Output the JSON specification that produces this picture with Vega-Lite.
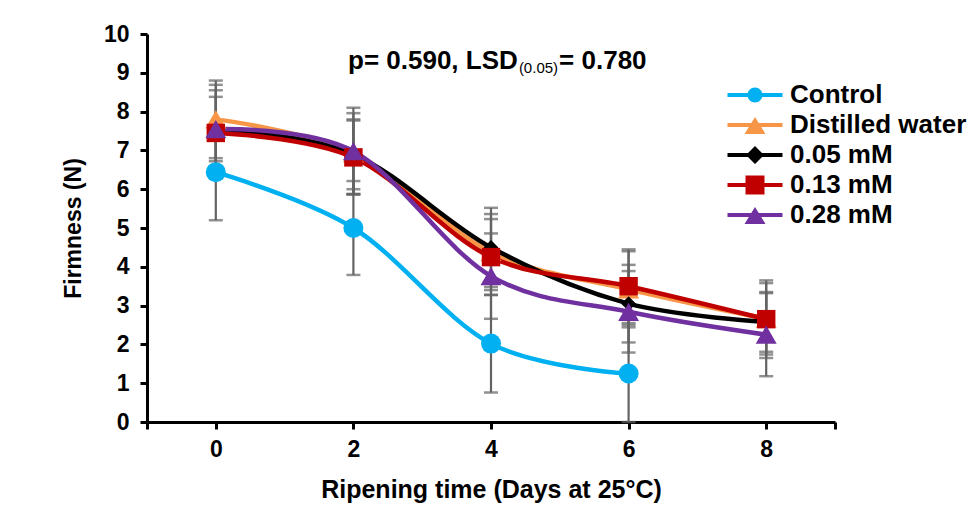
{
  "$schema": "https://vega.github.io/schema/vega-lite/v6.json",
  "width": 688,
  "height": 388,
  "autosize": {"type": "none"},
  "padding": {"left": 147, "top": 34, "right": 141, "bottom": 109},
  "background": "white",
  "config": {
    "view": {"stroke": null},
    "font": "Liberation Sans",
    "axis": {
      "domainColor": "black", "domainWidth": 3, "tickColor": "black", "tickWidth": 3, "tickSize": 7,
      "grid": false, "labelFont": "Liberation Sans", "labelFontWeight": "bold", "labelFontSize": 23,
      "labelColor": "black", "titleFont": "Liberation Sans", "titleFontWeight": "bold", "titleColor": "black"
    }
  },
  "datasets": {
    "main": [
      {"series": "Control", "day": 0, "firmness": 6.44, "err": 1.24},
      {"series": "Control", "day": 2, "firmness": 5.0, "err": 1.21},
      {"series": "Control", "day": 4, "firmness": 2.02, "err": 1.26},
      {"series": "Control", "day": 6, "firmness": 1.25, "err": 1.25},
      {"series": "Distilled water", "day": 0, "firmness": 7.8, "err": 1.0},
      {"series": "Distilled water", "day": 2, "firmness": 6.92, "err": 1.04},
      {"series": "Distilled water", "day": 4, "firmness": 4.38, "err": 0.98},
      {"series": "Distilled water", "day": 6, "firmness": 3.42, "err": 0.98},
      {"series": "Distilled water", "day": 8, "firmness": 2.66, "err": 0.92},
      {"series": "0.05 mM", "day": 0, "firmness": 7.55, "err": 1.14},
      {"series": "0.05 mM", "day": 2, "firmness": 6.9, "err": 0.9},
      {"series": "0.05 mM", "day": 4, "firmness": 4.5, "err": 1.02},
      {"series": "0.05 mM", "day": 6, "firmness": 3.05, "err": 1.0},
      {"series": "0.05 mM", "day": 8, "firmness": 2.58, "err": 0.77},
      {"series": "0.13 mM", "day": 0, "firmness": 7.45, "err": 1.1},
      {"series": "0.13 mM", "day": 2, "firmness": 6.82, "err": 0.95},
      {"series": "0.13 mM", "day": 4, "firmness": 4.25, "err": 0.98},
      {"series": "0.13 mM", "day": 6, "firmness": 3.5, "err": 0.95},
      {"series": "0.13 mM", "day": 8, "firmness": 2.65, "err": 1.0},
      {"series": "0.28 mM", "day": 0, "firmness": 7.55, "err": 0.83},
      {"series": "0.28 mM", "day": 2, "firmness": 6.98, "err": 1.12},
      {"series": "0.28 mM", "day": 4, "firmness": 3.76, "err": 1.1},
      {"series": "0.28 mM", "day": 6, "firmness": 2.84, "err": 1.05},
      {"series": "0.28 mM", "day": 8, "firmness": 2.25, "err": 1.07}
    ],
    "note": [
      {"part": "main", "label": "p= 0.590, LSD"},
      {"part": "sub", "label": "(0.05)"},
      {"part": "tail", "label": "= 0.780"}
    ]
  },
  "layer": [
    {
      "data": {"name": "main"},
      "encoding": {
        "x": {
          "field": "day", "type": "quantitative",
          "scale": {"domain": [-1, 9], "nice": false, "zero": false},
          "axis": {
            "values": [-1, 0, 2, 4, 6, 8, 9], "format": "d",
            "labelExpr": "datum.value < 0 || datum.value > 8 ? '' : datum.label",
            "title": "Ripening time (Days at 25°C)", "titleFontSize": 25, "titlePadding": 16, "labelPadding": 9
          }
        },
        "y": {
          "field": "firmness", "type": "quantitative",
          "scale": {"domain": [0, 10], "nice": false},
          "axis": {
            "values": [0, 1, 2, 3, 4, 5, 6, 7, 8, 9, 10], "format": "d",
            "title": "Firmness (N)", "titleFontSize": 23, "titlePadding": 18, "labelPadding": 11
          }
        }
      },
      "layer": [
        {
          "mark": {"type": "errorbar", "color": "#636363", "thickness": 2.2, "ticks": {"size": 14, "thickness": 2.5, "color": "#636363"}},
          "encoding": {"yError": {"field": "err"}, "detail": {"field": "series"}}
        },
        {
          "mark": {"type": "line", "interpolate": "cardinal", "strokeWidth": 4.5},
          "encoding": {
            "color": {"field": "series", "type": "nominal",
              "scale": {"domain": ["Control", "Distilled water", "0.05 mM", "0.13 mM", "0.28 mM"], "range": ["#00B0F0", "#F79646", "#000000", "#C00000", "#7030A0"]}}
          }
        },
        {
          "transform": [{"filter": "datum.series == 'Control'"}],
          "mark": {"type": "point", "filled": true, "shape": "circle", "size": 400, "opacity": 1},
          "encoding": {"color": {"field": "series", "type": "nominal"}}
        },
        {
          "transform": [{"filter": "datum.series == 'Distilled water'"}],
          "mark": {"type": "point", "filled": true, "shape": "triangle-up", "size": 440, "opacity": 1},
          "encoding": {"color": {"field": "series", "type": "nominal"}}
        },
        {
          "transform": [{"filter": "datum.series == '0.05 mM'"}],
          "mark": {"type": "point", "filled": true, "shape": "diamond", "size": 220, "opacity": 1},
          "encoding": {"color": {"field": "series", "type": "nominal"}}
        },
        {
          "transform": [{"filter": "datum.series == '0.13 mM'"}],
          "mark": {"type": "point", "filled": true, "shape": "square", "size": 340, "opacity": 1},
          "encoding": {"color": {"field": "series", "type": "nominal"}}
        },
        {
          "transform": [{"filter": "datum.series == '0.28 mM'"}],
          "mark": {"type": "point", "filled": true, "shape": "triangle-up", "size": 440, "opacity": 1},
          "encoding": {"color": {"field": "series", "type": "nominal"}}
        },
        {
          "mark": {"type": "point", "filled": true, "size": 0, "opacity": 1},
          "encoding": {
            "color": {"field": "series", "type": "nominal",
              "legend": {"title": null, "orient": "none", "legendX": 595, "legendY": 48, "padding": 0,
                "symbolSize": 400, "symbolStrokeWidth": 0, "labelOffset": 22, "rowPadding": 4,
                "labelFont": "Liberation Sans", "labelFontWeight": "bold", "labelFontSize": 26, "labelColor": "black", "labelLimit": 300}},
            "shape": {"field": "series", "type": "nominal",
              "scale": {"domain": ["Control", "Distilled water", "0.05 mM", "0.13 mM", "0.28 mM"],
                "range": [
                  "M-2.75,-0.2H2.75V0.2H-2.75Z M-0.75,0A0.75,0.75 0 1,1 0.75,0A0.75,0.75 0 1,1 -0.75,0Z",
                  "M-2.75,-0.2H2.75V0.2H-2.75Z M0,-0.8L1.05,0.9L-1.05,0.9Z",
                  "M-2.75,-0.2H2.75V0.2H-2.75Z M0,-0.9L0.9,0L0,0.9L-0.9,0Z",
                  "M-2.75,-0.2H2.75V0.2H-2.75Z M-0.95,-0.95H0.95V0.95H-0.95Z",
                  "M-2.75,-0.2H2.75V0.2H-2.75Z M0,-0.8L1.05,0.9L-1.05,0.9Z"
                ]},
              "legend": {"title": null, "orient": "none", "legendX": 595, "legendY": 48, "padding": 0,
                "symbolSize": 400, "symbolStrokeWidth": 0, "labelOffset": 22, "rowPadding": 4,
                "labelFont": "Liberation Sans", "labelFontWeight": "bold", "labelFontSize": 26, "labelColor": "black", "labelLimit": 300}}
          }
        }
      ]
    },
    {
      "data": {"name": "note"},
      "transform": [{"filter": "datum.part == 'main'"}],
      "mark": {"type": "text", "align": "right", "baseline": "alphabetic", "font": "Liberation Sans", "fontWeight": "bold", "fontSize": 26, "color": "black"},
      "encoding": {
        "text": {"field": "label"},
        "x": {"datum": 4.39, "type": "quantitative", "axis": {"values": [-1, 0, 2, 4, 6, 8, 9], "format": "d", "labelExpr": "datum.value < 0 || datum.value > 8 ? '' : datum.label", "title": "Ripening time (Days at 25°C)", "titleFontSize": 25, "titlePadding": 16, "labelPadding": 9}},
        "y": {"datum": 9.1, "type": "quantitative", "axis": {"values": [0, 1, 2, 3, 4, 5, 6, 7, 8, 9, 10], "format": "d", "title": "Firmness (N)", "titleFontSize": 23, "titlePadding": 18, "labelPadding": 11}}
      }
    },
    {
      "data": {"name": "note"},
      "transform": [{"filter": "datum.part == 'sub'"}],
      "mark": {"type": "text", "align": "center", "baseline": "alphabetic", "font": "Liberation Sans", "fontSize": 15, "color": "black"},
      "encoding": {
        "text": {"field": "label"},
        "x": {"datum": 4.69, "type": "quantitative", "axis": {"values": [-1, 0, 2, 4, 6, 8, 9], "format": "d", "labelExpr": "datum.value < 0 || datum.value > 8 ? '' : datum.label", "title": "Ripening time (Days at 25°C)", "titleFontSize": 25, "titlePadding": 16, "labelPadding": 9}},
        "y": {"datum": 9.0, "type": "quantitative", "axis": {"values": [0, 1, 2, 3, 4, 5, 6, 7, 8, 9, 10], "format": "d", "title": "Firmness (N)", "titleFontSize": 23, "titlePadding": 18, "labelPadding": 11}}
      }
    },
    {
      "data": {"name": "note"},
      "transform": [{"filter": "datum.part == 'tail'"}],
      "mark": {"type": "text", "align": "left", "baseline": "alphabetic", "font": "Liberation Sans", "fontWeight": "bold", "fontSize": 26, "color": "black"},
      "encoding": {
        "text": {"field": "label"},
        "x": {"datum": 4.99, "type": "quantitative", "axis": {"values": [-1, 0, 2, 4, 6, 8, 9], "format": "d", "labelExpr": "datum.value < 0 || datum.value > 8 ? '' : datum.label", "title": "Ripening time (Days at 25°C)", "titleFontSize": 25, "titlePadding": 16, "labelPadding": 9}},
        "y": {"datum": 9.1, "type": "quantitative", "axis": {"values": [0, 1, 2, 3, 4, 5, 6, 7, 8, 9, 10], "format": "d", "title": "Firmness (N)", "titleFontSize": 23, "titlePadding": 18, "labelPadding": 11}}
      }
    }
  ]
}
